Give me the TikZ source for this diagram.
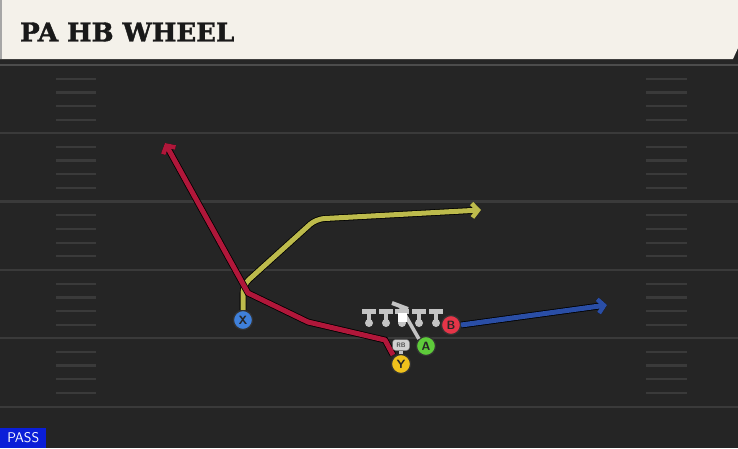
\documentclass[tikz,border=0pt]{standalone}
\usepackage{fontspec}
\setmainfont{DejaVu Sans}
\newfontfamily\titlefont[FakeBold=1.6]{DejaVu Serif}
\usetikzlibrary{arrows.meta}
\definecolor{field}{HTML}{252525}
\definecolor{yardline}{HTML}{3A3A3A}
\definecolor{cream}{HTML}{F4F1EA}
\definecolor{rred}{HTML}{B0173A}
\definecolor{ryel}{HTML}{BDBB4C}
\definecolor{rblue}{HTML}{2A4EA6}
\definecolor{cX}{HTML}{3F80DA}
\definecolor{cY}{HTML}{EFC11C}
\definecolor{cA}{HTML}{5ECB3A}
\definecolor{cB}{HTML}{E53548}
\definecolor{lgray}{HTML}{C4C4C4}
\definecolor{passblue}{HTML}{0A1ED8}
\tikzset{
  player/.style={circle, draw=black!80, line width=1.2pt, minimum size=19pt, inner sep=0pt,
     font=\sffamily\bfseries\fontsize{12}{12}\selectfont, text=black!85},
  route/.style={line width=5pt, line join=round,
     preaction={draw=black, line width=6.6pt}},
  tip/.style={-{Straight Barb[length=6pt,width=14pt,line width=4.5pt]}},
  yardln/.style={yardline, line width=2.6pt},
  hashln/.style={yardline, line width=2.2pt},
  lineman/.style={lgray, line width=3.6pt},
}
\begin{document}
\begin{tikzpicture}[x=1pt,y=-1pt]
\useasboundingbox (0,0) rectangle (738,448);
% field
\fill[field] (0,0) rectangle (738,448);
\fill[black!85] (0,58) rectangle (738,64);
\fill[black!70] (0,64) rectangle (738,66);
% yard lines
\foreach \y in {133,201.5,270,338,407} \draw[yardln] (0,\y) -- (738,\y);
% hash marks
\foreach \base in {65,133,201.5,270,338} {
  \foreach \k in {1,2,3,4} {
    \draw[hashln] (56,\base+13.7*\k) -- (96,\base+13.7*\k);
    \draw[hashln] (646,\base+13.7*\k) -- (687,\base+13.7*\k);
  }
}
% title bar
\fill[cream] (0,0) -- (738,0) -- (738,48) -- (733,59) -- (0,59) -- cycle;
\fill[black!35] (0,0) rectangle (2,59);
\node[anchor=west, inner sep=0pt, text=black!90] (title) at (20,32)
  {\titlefont\bfseries\fontsize{26}{26}\selectfont PA HB WHEEL};
% PASS tag
\node[fill=passblue, text=white, anchor=south west, inner sep=0pt, minimum width=46pt,
      minimum height=20pt, font=\sffamily\fontsize{14}{14}\selectfont] (pass) at (0,448) {PASS};

% route bend points
\coordinate (x1) at (243,285);
\coordinate (x2) at (316,219);
\coordinate (xe) at (481,210);
\coordinate (y1) at (385,340);
\coordinate (y2) at (308,322);
\coordinate (y3) at (248,293);
\coordinate (ye) at (165,143);
\coordinate (be) at (607,305);
\coordinate (ae) at (400,306);

% players
\node[player, fill=cX] (X) at (243,320) {X};
\node[player, fill=cA] (A) at (426,346) {A};
\node[player, fill=cB] (B) at (451,325) {B};

% routes
\draw[route, ryel, tip, rounded corners=8pt] (X.north) -- (x1) -- (x2) -- (xe);
\draw[route, rblue, tip] (B.east) -- (be);
% block route of A
\draw[lgray, line width=3.6pt] (A.north west) -- (ae);
\draw[lgray, line width=4pt] (392,303) -- (408,309);

% linemen
\foreach \i/\xx in {1/369,2/386,3/402,4/419,5/436} {
  \coordinate (L\i) at (\xx,317);
  \fill[lgray] (\xx-7,309) rectangle (\xx+7,314);
  \draw[lineman] (\xx,313) -- (\xx,322);
  \fill[lgray] (\xx,323) circle (4pt);
}
\fill[white] (397.5,313) rectangle (406.5,322);

% red route
\draw[route, rred, tip] (393,355) -- (y1) -- (y2) -- (y3) -- (ye);

% RB tag
\node[fill=lgray!80, draw=black!60, rounded corners=3pt, inner sep=1pt, minimum width=17pt,
      minimum height=11pt, font=\sffamily\bfseries\fontsize{6.5}{6.5}\selectfont, text=black!70] (RB) at (401,345) {RB};
\node[player, fill=cY] (Y) at (401,364) {Y};
\draw[lgray, line width=3.5pt] (RB.south) -- (Y.north);
\end{tikzpicture}
\end{document}
